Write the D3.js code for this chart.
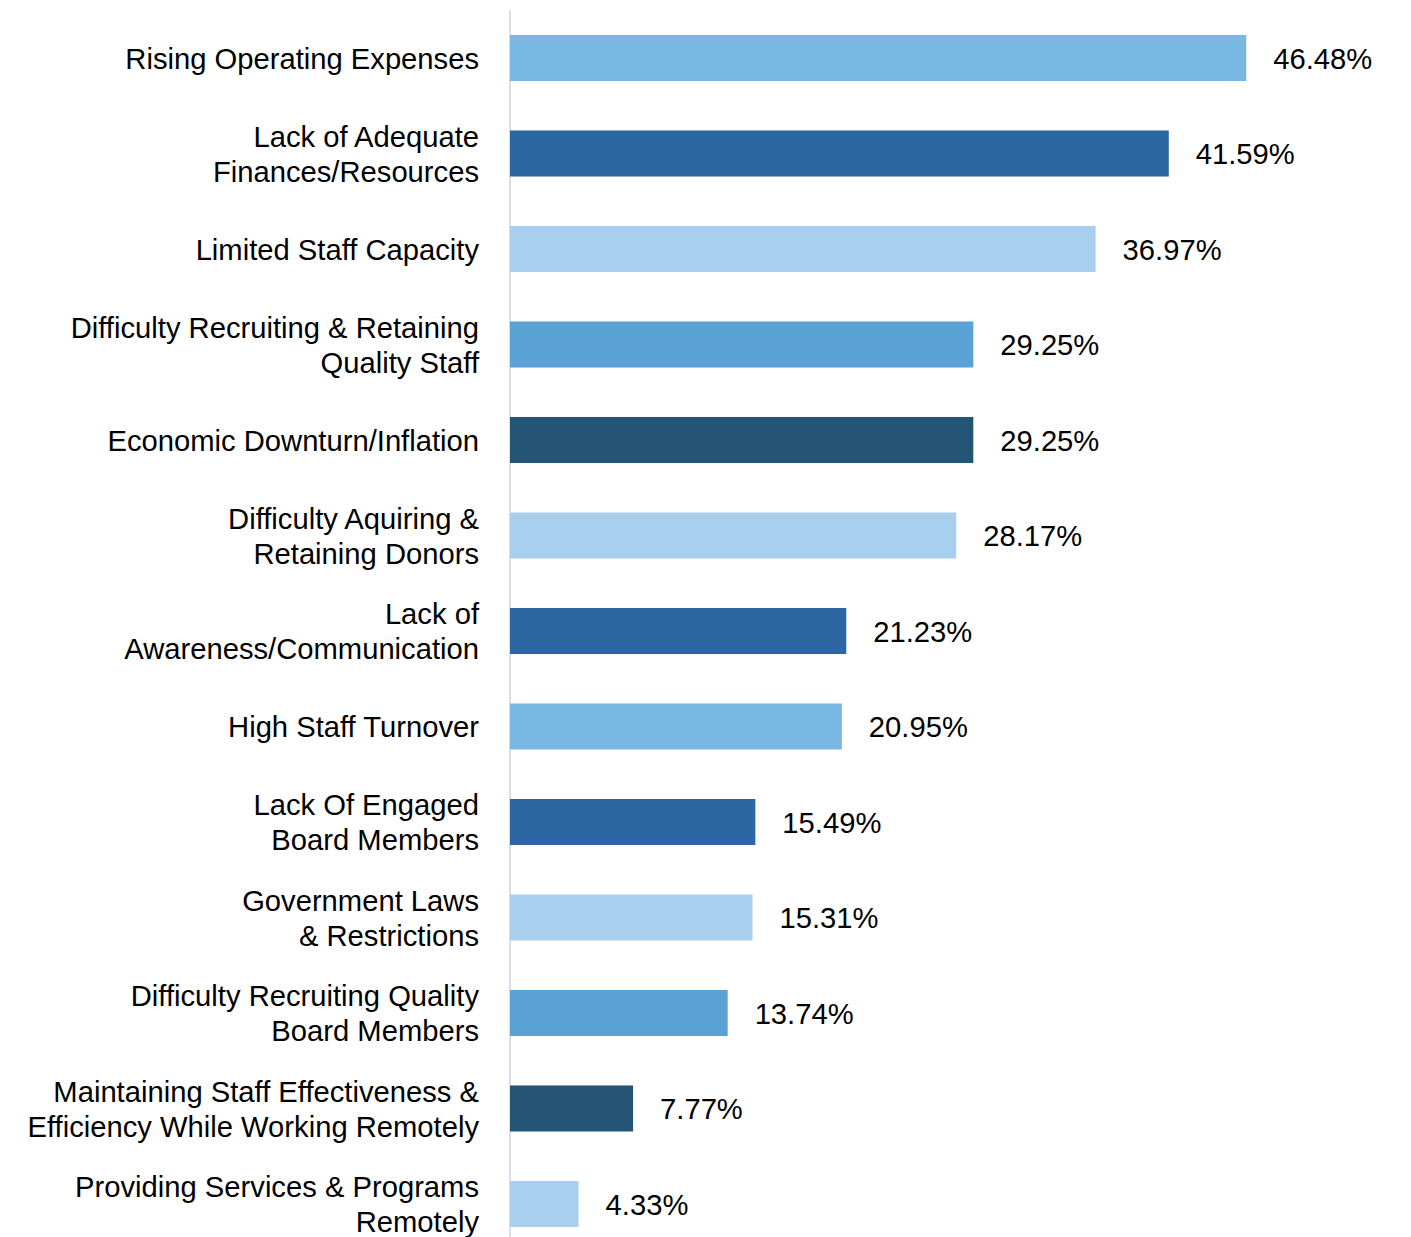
<!DOCTYPE html>
<html>
<head>
<meta charset="utf-8">
<script src="https://cdn.jsdelivr.net/npm/d3@7"></script>
<style>
  html, body { margin: 0; padding: 0; background: #fff; }
  text { font-family: "Liberation Sans", Arial, sans-serif; fill: #000; }
</style>
</head>
<body>
<div id="chart"></div>
<script>
// categories, top to bottom ("\n" = line break in the label)
var categories = [
    "Rising Operating Expenses",
    "Lack of Adequate\nFinances/Resources",
    "Limited Staff Capacity",
    "Difficulty Recruiting & Retaining\nQuality Staff",
    "Economic Downturn/Inflation",
    "Difficulty Aquiring &\nRetaining Donors",
    "Lack of\nAwareness/Communication",
    "High Staff Turnover",
    "Lack Of Engaged\nBoard Members",
    "Government Laws\n& Restrictions",
    "Difficulty Recruiting Quality\nBoard Members",
    "Maintaining Staff Effectiveness &\nEfficiency While Working Remotely",
    "Providing Services & Programs\nRemotely"
];
var values = [46.48, 41.59, 36.97, 29.25, 29.25, 28.17, 21.23, 20.95, 15.49, 15.31, 13.74, 7.77, 4.33];
var barColors = ["#7ab8e4", "#2c67a4", "#a8cfee", "#5aa1d6", "#245577", "#a8cfee", "#2c67a4",
                 "#7ab8e4", "#2c67a4", "#a8cfee", "#5aa1d6", "#245577", "#a8cfee"];

var w = 1411,
    h = 1237,
    fs = 29.2;

var svg = d3.select("#chart").append("svg")
    .attr("width", w)
    .attr("height", h);

var x = d3.scaleLinear().domain([0, 50]).range([510, 1302]);
var y = d3.scaleBand()
    .domain(d3.range(categories.length))
    .range([10.25, 1251.75])
    .paddingInner(0.518)
    .paddingOuter(0.259);

// axis line
svg.append("line")
    .attr("x1", 510).attr("x2", 510)
    .attr("y1", 10).attr("y2", h)
    .attr("stroke", "#dcdce2")
    .attr("stroke-width", 2);

svg.selectAll("rect.bar")
    .data(values)
    .enter().append("rect")
    .attr("class", "bar")
    .attr("x", x(0))
    .attr("y", function(d, i) { return y(i); })
    .attr("width", function(d) { return x(d) - x(0); })
    .attr("height", y.bandwidth())
    .attr("fill", function(d, i) { return barColors[i]; });

// value labels
svg.selectAll("text.val")
    .data(values)
    .enter().append("text")
    .attr("class", "val")
    .attr("x", function(d) { return x(d) + 27; })
    .attr("y", function(d, i) { return y(i) + y.bandwidth() / 2 + fs * 0.36; })
    .style("font-size", fs + "px")
    .text(function(d) { return d.toFixed(2) + "%"; });

// category labels
var lh = 35;
svg.selectAll("text.cat")
    .data(categories)
    .enter().append("text")
    .attr("class", "cat")
    .attr("text-anchor", "end")
    .style("font-size", fs + "px")
    .each(function(d, i) {
        var lines = d.split("\n");
        var cy = y(i) + y.bandwidth() / 2;
        var y0 = cy - (lines.length - 1) * lh / 2 + fs * 0.36;
        var t = d3.select(this);
        lines.forEach(function(l, k) {
            t.append("tspan")
                .attr("x", 479)
                .attr("y", y0 + k * lh)
                .text(l);
        });
    });
</script>
</body>
</html>
